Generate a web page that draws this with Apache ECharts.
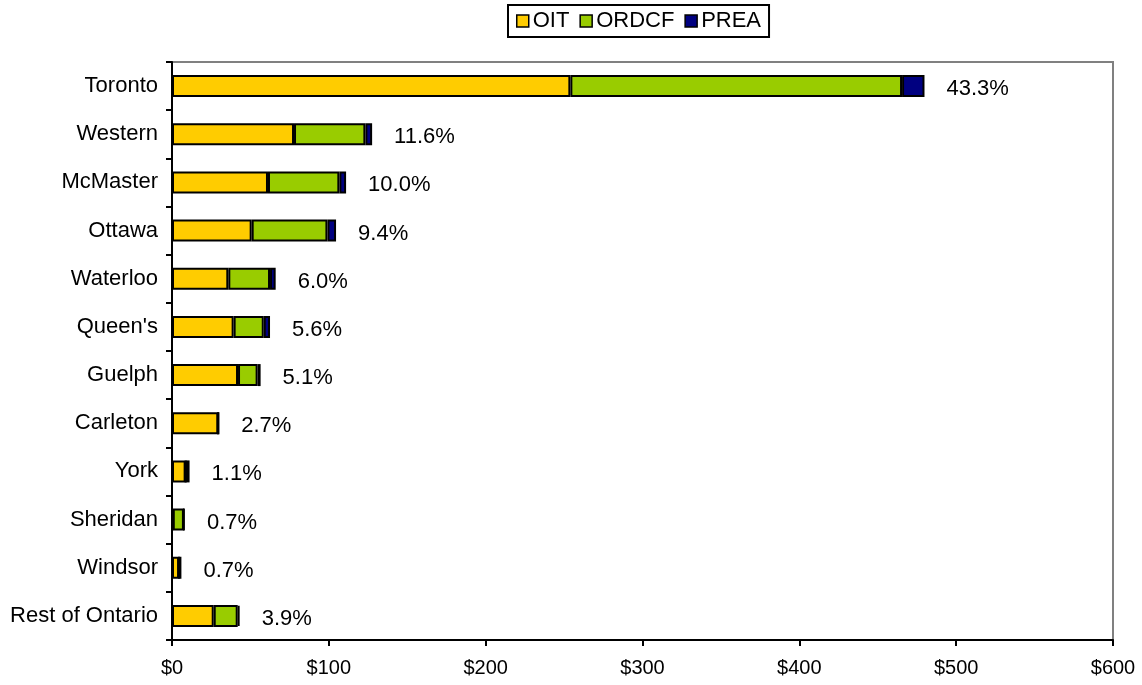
<!DOCTYPE html>
<html><head><meta charset="utf-8">
<script src="https://cdn.jsdelivr.net/npm/echarts@6/dist/echarts.min.js"></script>
<style>html,body{margin:0;padding:0;background:#fff}#c{width:1142px;height:685px}</style>
</head><body><div id="c"></div>
<script>
const categories = ["Toronto","Western","McMaster","Ottawa","Waterloo","Queen's","Guelph","Carleton","York","Sheridan","Windsor","Rest of Ontario"];
const oit   = [254, 77.8, 61.2, 50.8, 35.9, 39.3, 42.1, 29.5, 8.7, 0.5, 4.5, 26.6];
const ordcf = [211.5, 45.5, 45.5, 48.3, 26.6, 19.2, 12.5, 0, 0, 7.1, 0, 15.3];
const prea  = [14.3, 4.3, 4.3, 5.5, 3.6, 4.0, 1.9, 0, 2.5, 0, 1.5, 1.2];
const shares = ["43.3%","11.6%","10.0%","9.4%","6.0%","5.6%","5.1%","2.7%","1.1%","0.7%","0.7%","3.9%"];
const xTicks = [0,100,200,300,400,500,600];

const font = "Liberation Sans, Arial, sans-serif";
const barStyle = c => ({color: c, borderColor: '#000', borderWidth: 2});
const chart = echarts.init(document.getElementById('c'));
chart.setOption({
  animation: false,
  textStyle: {fontFamily: font},
  legend: {
    top: 5, left: 508,
    icon: 'rect',
    itemWidth: 12, itemHeight: 12, itemGap: 10,
    borderColor: '#000', borderWidth: 2, padding: [5, 8, 5, 8],
    itemStyle: {borderColor: '#000', borderWidth: 1.5},
    textStyle: {fontSize: 22, color: '#000', fontFamily: font, padding: [2,0,0,-1]},
    data: ['OIT','ORDCF','PREA']
  },
  grid: {left: 172, right: 29, top: 62, bottom: 45, show: true, borderColor: '#808080', borderWidth: 2, containLabel: false},
  xAxis: {
    type: 'value', min: xTicks[0], max: xTicks[xTicks.length-1], interval: 100,
    axisLine: {show: true, lineStyle: {color: '#000', width: 2}},
    axisTick: {show: true, length: 6, lineStyle: {color: '#000', width: 2}},
    splitLine: {show: false},
    axisLabel: {fontSize: 20, color: '#000', margin: 18, formatter: v => '$' + v}
  },
  yAxis: {
    type: 'category', data: categories, inverse: true,
    axisLine: {show: true, lineStyle: {color: '#000', width: 2}},
    axisTick: {show: true, length: 6, lineStyle: {color: '#000', width: 2}},
    axisLabel: {fontSize: 22, color: '#000', margin: 14, padding: [6,0,0,0]}
  },
  series: [
    {name: 'OIT', type: 'bar', stack: 's', data: oit, barWidth: 22, itemStyle: barStyle('#FFCC00')},
    {name: 'ORDCF', type: 'bar', stack: 's', data: ordcf, itemStyle: barStyle('#99CC00')},
    {name: 'PREA', type: 'bar', stack: 's', data: prea, itemStyle: barStyle('#000080'),
     label: {show: true, position: 'right', distance: 22, fontSize: 22, color: '#000', offset: [0, 3],
             formatter: p => shares[p.dataIndex]}}
  ]
});
</script></body></html>
